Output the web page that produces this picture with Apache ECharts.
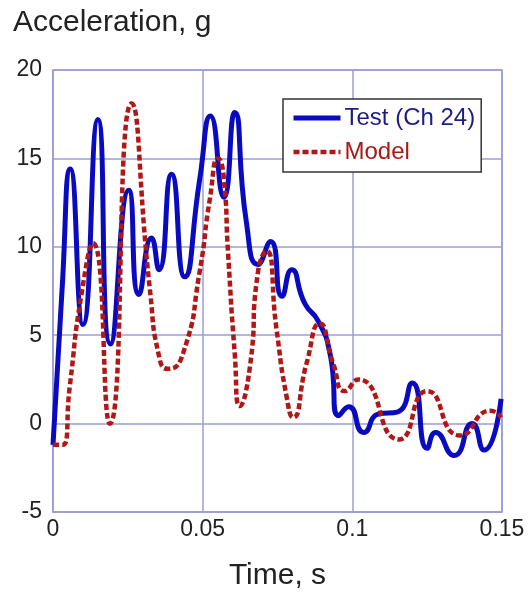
<!DOCTYPE html>
<html>
<head>
<meta charset="utf-8">
<script src="https://cdn.jsdelivr.net/npm/echarts@6/dist/echarts.min.js"></script>
<style>
  html, body { margin: 0; padding: 0; background: #fff; }
  #chart { width: 528px; height: 596px; }
</style>
</head>
<body>
<div id="chart"></div>
<script>
// time (s), acceleration (g)
const testData = [
  [0, -1.2], [0.003, 7.5], [0.0058, 14.4], [0.010, 5.6], [0.015, 17.2],
  [0.0192, 4.5], [0.0253, 13.2], [0.0287, 7.3], [0.0329, 10.5], [0.0354, 8.7],
  [0.0396, 14.1], [0.044, 8.3], [0.049, 13.8], [0.0526, 17.4], [0.0571, 12.8],
  [0.0607, 17.6], [0.0646, 11.4], [0.0685, 9.0], [0.0727, 10.3], [0.0765, 7.2],
  [0.0797, 8.7], [0.0841, 6.8], [0.0886, 5.8], [0.0925, 4.0], [0.0955, 0.45],
  [0.0988, 0.95], [0.1038, -0.5], [0.1089, 0.55], [0.115, 0.65], [0.12, 2.3],
  [0.125, -1.4], [0.1278, -0.5], [0.134, -1.8], [0.14, 0], [0.144, -1.5],
  [0.1497, 1.4]
];
const modelData = [
  [0, -1.2], [0.0033, -1.2], [0.0056, 2.1], [0.0095, 7.3], [0.0134, 10.2],
  [0.019, 0], [0.0262, 18.1], [0.0323, 7.7], [0.0357, 3.6], [0.0384, 3.1],
  [0.0435, 4.0], [0.049, 8.6], [0.0524, 12.7], [0.0552, 15.0], [0.057, 14.0],
  [0.0585, 9.6], [0.0607, 4.0], [0.0624, 1.0], [0.0657, 3.1], [0.0685, 8.6],
  [0.0713, 9.76], [0.0747, 5.3], [0.078, 1.56], [0.0802, 0.35], [0.0847, 3.4],
  [0.0891, 5.66], [0.0936, 3.4], [0.0975, 1.84], [0.102, 2.5], [0.1155, -0.9],
  [0.125, 1.84], [0.136, -0.67], [0.1462, 0.73], [0.1497, 0.35]
];
const seriesNames = ['Test (Ch 24)', 'Model'];
const xTicks = { min: 0, max: 0.15, interval: 0.05 };
const yTicks = { min: -5, max: 20, interval: 5 };

const gridColor = '#9c9cd8';
const blue = '#0a0ac0';
const red = '#b01818';
const chart = echarts.init(document.getElementById('chart'));

chart.setOption({
  backgroundColor: '#fff',
  animation: false,
  textStyle: { fontFamily: 'Liberation Sans, Arial, sans-serif' },
  title: {
    text: 'Acceleration, g',
    left: 8,
    top: 3,
    textStyle: { fontSize: 30, fontWeight: 'normal', color: '#222' }
  },
  grid: {
    left: 53, right: 26, top: 70, bottom: 79,
    show: true, borderColor: gridColor, borderWidth: 1.5
  },
  legend: {
    orient: 'vertical',
    left: 283, top: 99,
    padding: [7, 6, 8, 8],
    itemGap: 10,
    itemWidth: 47,
    itemHeight: 14,
    backgroundColor: '#fff',
    borderColor: '#333',
    borderWidth: 1.5,
    borderRadius: 0,
    itemStyle: { opacity: 0 },
    textStyle: { fontSize: 24, padding: [0, 0, 0, -1] },
    data: [
      {
        name: seriesNames[0],
        textStyle: { color: '#1c1c86' },
        lineStyle: { color: blue, width: 5 }
      },
      {
        name: seriesNames[1],
        textStyle: { color: '#a81818' },
        lineStyle: { color: red, width: 4.5, type: [6, 3] }
      }
    ]
  },
  xAxis: {
    type: 'value',
    min: xTicks.min, max: xTicks.max, interval: xTicks.interval,
    name: 'Time, s',
    nameLocation: 'middle',
    nameGap: 49,
    nameTextStyle: { fontSize: 30, color: '#222' },
    axisLine: { onZero: false, lineStyle: { color: gridColor, width: 1.5 } },
    axisTick: { show: false },
    axisLabel: { fontSize: 23, color: '#222', margin: 6 },
    splitLine: { lineStyle: { color: gridColor, width: 1.5 } }
  },
  yAxis: {
    type: 'value',
    min: yTicks.min, max: yTicks.max, interval: yTicks.interval,
    axisLine: { show: true, lineStyle: { color: gridColor, width: 1.5 } },
    axisTick: { show: false },
    axisLabel: { fontSize: 23, color: '#222', margin: 11 },
    splitLine: { lineStyle: { color: gridColor, width: 1.5 } }
  },
  series: [
    {
      name: seriesNames[0],
      type: 'line',
      data: testData,
      smooth: 0.6,
      symbol: 'none',
      z: 3,
      lineStyle: { color: blue, width: 5 },
      itemStyle: { color: blue }
    },
    {
      name: seriesNames[1],
      type: 'line',
      data: modelData,
      smooth: 0.6,
      symbol: 'none',
      z: 4,
      lineStyle: { color: red, width: 4.5, type: [6, 3] },
      itemStyle: { color: red }
    }
  ]
});

window.addEventListener('resize', function() {
  chart.resize();
});
</script>
</body>
</html>
